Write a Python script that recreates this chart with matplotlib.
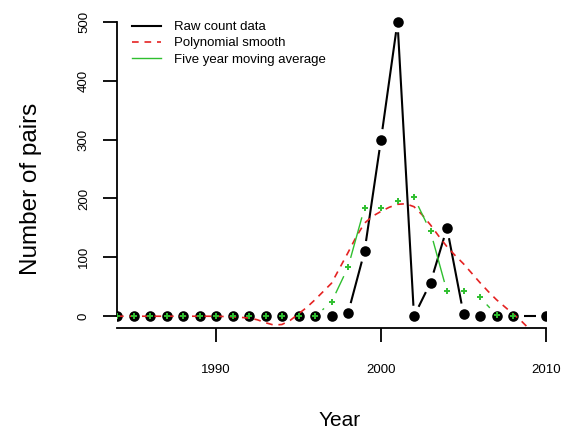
import numpy as np
import matplotlib
matplotlib.use("Agg")
import matplotlib.pyplot as plt
from matplotlib.lines import Line2D

plt.rcParams['font.family'] = ['Liberation Sans', 'DejaVu Sans']

# ---- data ----
years = [1984, 1985, 1986, 1987, 1988, 1989, 1990, 1991, 1992, 1993, 1994, 1995,
         1996, 1997, 1998, 1999, 2000, 2001, 2002, 2003, 2004, 2005, 2006, 2007,
         2008, 2010]
pairs = [0, 0, 0, 0, 0, 0, 0, 0, 0, 0, 0, 0,
         0, 0, 5, 110, 300, 500, 0, 57, 150, 4, 0, 0,
         0, 0]

ma_years = [1984, 1985, 1986, 1987, 1988, 1989, 1990, 1991, 1992, 1993, 1994, 1995,
            1996, 1997, 1998, 1999, 2000, 2001, 2002, 2003, 2004, 2005, 2006, 2007,
            2008]
ma_vals = [0, 0, 0, 0, 0, 0, 0, 0, 0, 0, 0, 0,
           0, 24, 83, 184, 184, 195, 202, 144, 42, 42, 32, 2,
           0]

smooth_years = [1984, 1985, 1986, 1987, 1988, 1989, 1990, 1991, 1992, 1992.5,
                1993, 1993.5, 1994, 1994.5, 1995, 1995.5, 1996, 1996.5, 1997,
                1997.5, 1998, 1998.5, 1999, 1999.5, 2000, 2000.5, 2001, 2001.5,
                2002, 2002.5, 2003, 2003.5, 2004, 2004.5, 2005, 2005.5, 2006,
                2006.5, 2007, 2007.5, 2008, 2008.5, 2009, 2009.5, 2010]
smooth_vals = [0, 0, 0, 0, 0, 0, 0, -1, -3, -6,
               -11, -15, -14, -7, 4, 15, 28, 42, 56,
               82, 108, 135, 158, 170, 178, 185, 190, 191,
               186, 172, 155, 136, 118, 103, 89, 73, 57,
               42, 28, 16, 4, -8, -22, -36, -50]

x_ticks = [1990, 2000, 2010]
y_ticks = [0, 100, 200, 300, 400, 500]

labels = ["Raw count data", "Polynomial smooth", "Five year moving average"]

# ---- figure ----
W, H = 572, 432
fig = plt.figure(figsize=(W / 100, H / 100), dpi=100)
ax = fig.add_axes([117 / W, 1 - 328 / H, (546 - 117) / W, (328 - 10) / H])
ax.set_xlim(1984, 2010)
ax.set_ylim(-20, 520)

black = '#000000'
red = '#e52222'
green = '#2fbf2f'
dash = (0, (4, 3.5))


def gapped_line(xs, ys, gap_px, **kw):
    """R type='b' style line: segments shortened near each point."""
    pts = ax.transData.transform(np.column_stack([xs, ys]))
    inv = ax.transData.inverted()
    for (x0, y0), (x1, y1) in zip(pts[:-1], pts[1:]):
        d = np.hypot(x1 - x0, y1 - y0)
        if d <= 2 * gap_px:
            continue
        ux, uy = (x1 - x0) / d, (y1 - y0) / d
        a = inv.transform([(x0 + ux * gap_px, y0 + uy * gap_px),
                           (x1 - ux * gap_px, y1 - uy * gap_px)])
        ax.plot(a[:, 0], a[:, 1], **kw)


# raw counts
gapped_line(years, pairs, 10.5, color=black, lw=1.5, solid_capstyle='butt')
ax.plot(years, pairs, 'o', color=black, ms=7.6, mew=0, zorder=3)

# polynomial smooth
ax.plot(smooth_years, smooth_vals, color=red, lw=1.2, linestyle=dash, zorder=4)

# moving average
gapped_line(ma_years, ma_vals, 10.5, color=green, lw=1.0, zorder=5)
ax.plot(ma_years, ma_vals, '+', color=green, ms=5, mew=1.4, zorder=6)

# axes styling (R-like)
for s in ['top', 'right']:
    ax.spines[s].set_visible(False)
ax.spines['left'].set_bounds(0, 500)
ax.spines['bottom'].set_bounds(1984, 2010)
ax.spines['left'].set_linewidth(1.3)
ax.spines['bottom'].set_linewidth(1.3)
ax.set_xticks(x_ticks)
ax.set_yticks(y_ticks)
ax.set_xticklabels([str(v) for v in x_ticks])
ax.set_yticklabels([str(v) for v in y_ticks])
ax.tick_params(axis='both', direction='out', length=10, width=1.3, labelsize=9.5)
ax.tick_params(axis='x', pad=16)
ax.tick_params(axis='y', pad=9.5, labelrotation=90)
for lab in ax.get_yticklabels():
    lab.set_va('center')
ax.patch.set_visible(False)

fig.text(340 / W, 1 - 421 / H, 'Year', ha='center', va='center', fontsize=15)
fig.text(31 / W, 1 - 189 / H, 'Number of pairs', ha='center', va='center',
         rotation=90, fontsize=17.5)

handles = [Line2D([], [], color=black, lw=1.5),
           Line2D([], [], color=red, lw=1.2, linestyle=dash),
           Line2D([], [], color=green, lw=1.0)]
ax.legend(handles, labels, loc='upper left', bbox_to_anchor=(132 / W, 1 - 21 / H),
          bbox_transform=fig.transFigure, frameon=False, fontsize=9.5,
          handlelength=2.2, handletextpad=0.95, labelspacing=0.3,
          borderpad=0, borderaxespad=0)

fig.savefig('out.png', dpi=100)
